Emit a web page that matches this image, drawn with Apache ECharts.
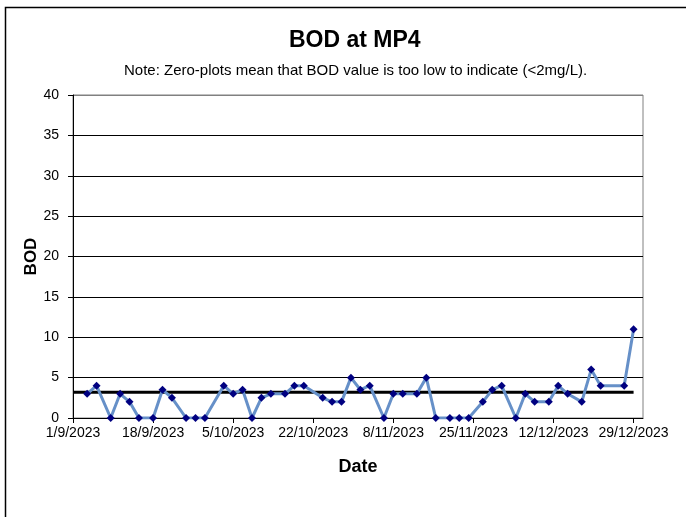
<!DOCTYPE html>
<html>
<head>
<meta charset="utf-8">
<script src="https://cdn.jsdelivr.net/npm/echarts@6/dist/echarts.min.js"></script>
<style>
html,body{margin:0;padding:0;background:#fff;}
#chart{width:686px;height:517px;}
</style>
</head>
<body>
<div id="chart"></div>
<script>
// ---- data ----
const sampleDates = [
  '2023-09-04','2023-09-06','2023-09-09','2023-09-11','2023-09-13','2023-09-15','2023-09-18','2023-09-20','2023-09-22','2023-09-25',
  '2023-09-27','2023-09-29','2023-10-03','2023-10-05','2023-10-07','2023-10-09','2023-10-11','2023-10-13','2023-10-16','2023-10-18',
  '2023-10-20','2023-10-24','2023-10-26','2023-10-28','2023-10-30','2023-11-01','2023-11-03','2023-11-06','2023-11-08','2023-11-10',
  '2023-11-13','2023-11-15','2023-11-17','2023-11-20','2023-11-22','2023-11-24','2023-11-27','2023-11-29','2023-12-01','2023-12-04',
  '2023-12-06','2023-12-08','2023-12-11','2023-12-13','2023-12-15','2023-12-18','2023-12-20','2023-12-22','2023-12-27','2023-12-29'
];
const bodValues = [
  3,4,0,3,2,0,0,3.5,2.5,0,
  0,0,4,3,3.5,0,2.5,3,3,4,
  4,2.5,2,2,5,3.5,4,0,3,3,
  3,5,0,0,0,0,2,3.5,4,0,
  3,2,2,4,3,2,6,4,4,11
];
const refLineDates = ['2023-09-01','2023-12-29'];
const refLineValues = [3.2, 3.2];
const xAxisStart = '2023-09-01';
const xAxisEnd = '2023-12-31';
const xTickDays = 17;
const yMin = 0, yMax = 40, yStep = 5;
const titleText = 'BOD at MP4';
const noteText = 'Note: Zero-plots mean that BOD value is too low to indicate (<2mg/L).';

// ---- helpers ----
function toTs(s){ const p = s.split('-').map(Number); return Date.UTC(p[0], p[1]-1, p[2]); }
function fmt(v){ const d = new Date(v); return d.getUTCDate() + '/' + (d.getUTCMonth()+1) + '/' + d.getUTCFullYear(); }
const DAY = 86400000;
const FONT = '"Liberation Sans", Arial, sans-serif';

const chart = echarts.init(document.getElementById('chart'));
chart.setOption({
  backgroundColor: '#fff',
  animation: false,
  graphic: [{
    type: 'rect', silent: true, z: -1,
    shape: { x: 5.5, y: 7.5, width: 720, height: 540 },
    style: { fill: 'none', stroke: '#000', lineWidth: 1.5 }
  }],
  title: [
    { text: titleText, left: 284, top: 24,
      textStyle: { fontFamily: FONT, fontSize: 23, fontWeight: 'bold', color: '#000' } },
    { text: noteText, left: 119, top: 58,
      textStyle: { fontFamily: FONT, fontSize: 15, fontWeight: 'normal', color: '#000' } }
  ],
  grid: { left: 73, right: 43, top: 95, bottom: 99, show: true, borderColor: '#808080', borderWidth: 1 },
  xAxis: {
    type: 'value',
    min: toTs(xAxisStart), max: toTs(xAxisEnd), interval: xTickDays * DAY,
    name: 'Date', nameLocation: 'middle', nameGap: 40,
    nameTextStyle: { fontFamily: FONT, fontSize: 18, fontWeight: 'bold', color: '#000' },
    axisLine: { show: true, lineStyle: { color: '#000', width: 1 } },
    axisTick: { show: true, inside: false, length: 5, lineStyle: { color: '#000' } },
    axisLabel: { formatter: fmt, showMaxLabel: false, showMinLabel: true, margin: 8,
      fontFamily: FONT, fontSize: 14, color: '#000' },
    splitLine: { show: false }
  },
  yAxis: {
    type: 'value', min: yMin, max: yMax, interval: yStep,
    name: 'BOD', nameLocation: 'middle', nameGap: 33, nameRotate: 90, nameMoveOverlap: false,
    nameTextStyle: { fontFamily: FONT, fontSize: 17, fontWeight: 'bold', color: '#000' },
    axisLine: { show: true, lineStyle: { color: '#000', width: 1 } },
    axisTick: { show: true, inside: false, length: 5, lineStyle: { color: '#000' } },
    axisLabel: { margin: 14, fontFamily: FONT, fontSize: 14, color: '#000' },
    splitLine: { show: true, lineStyle: { color: ['#000','#000','#000','#000','#000','#000','#000','#000','#808080'], width: 1 } }
  },
  series: [
    {
      type: 'line', name: 'Reference',
      data: refLineDates.map((d, i) => [toTs(d), refLineValues[i]]),
      showSymbol: false, symbol: 'none',
      lineStyle: { color: '#000', width: 3 }, z: 3
    },
    {
      type: 'line', name: 'BOD',
      data: sampleDates.map((d, i) => [toTs(d), bodValues[i]]),
      symbol: 'diamond', symbolSize: 8,
      itemStyle: { color: '#000080', borderWidth: 0 },
      lineStyle: { color: '#6690C8', width: 3 }, z: 4
    }
  ]
});
</script>
</body>
</html>
